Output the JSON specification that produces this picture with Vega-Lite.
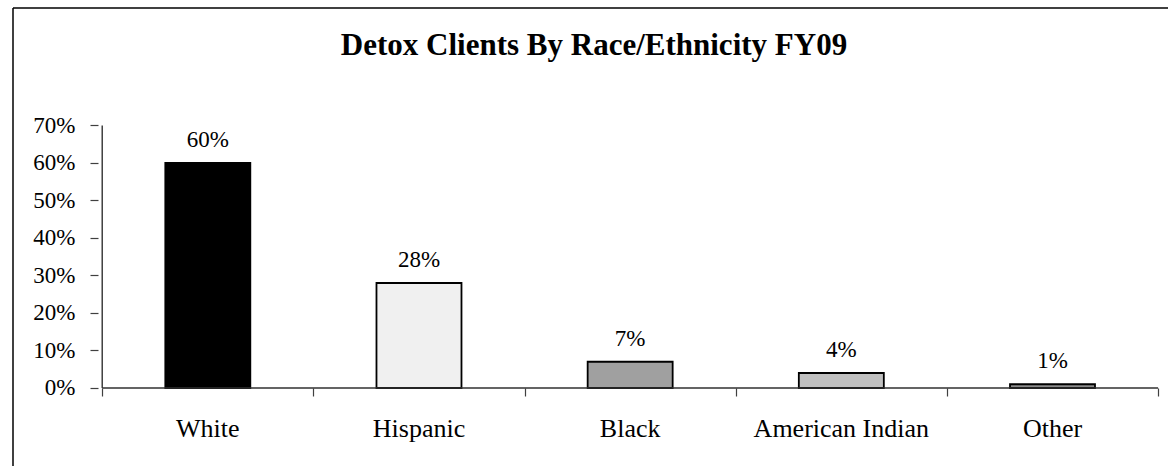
{
  "$schema": "https://vega.github.io/schema/vega-lite/v6.json",
  "width": 1165,
  "height": 458,
  "autosize": {"type": "none"},
  "padding": {"left": 8, "top": 8, "right": 0, "bottom": 0},
  "background": "white",
  "config": {"view": {"stroke": null}, "font": "Liberation Serif"},
  "title": {
    "text": "Detox Clients By Race/Ethnicity FY09",
    "font": "Liberation Serif",
    "fontSize": 31,
    "fontWeight": "bold",
    "color": "black",
    "anchor": "middle",
    "frame": "group",
    "offset": 0,
    "baseline": "alphabetic",
    "dy": 79,
    "dx": 3.5
  },
  "data": {
    "values": [
      {"race": "White", "pct": 0.60, "label": "60%"},
      {"race": "Hispanic", "pct": 0.28, "label": "28%"},
      {"race": "Black", "pct": 0.07, "label": "7%"},
      {"race": "American Indian", "pct": 0.04, "label": "4%"},
      {"race": "Other", "pct": 0.01, "label": "1%"}
    ]
  },
  "transform": [{"window": [{"op": "row_number", "as": "k"}]}],
  "layer": [
    {
      "mark": {"type": "bar", "size": 85, "stroke": "black", "strokeWidth": 1.8},
      "encoding": {
        "x": {
          "field": "k",
          "type": "quantitative",
          "scale": {"domain": [0.07746, 5.54695], "nice": false, "zero": false},
          "axis": {
            "title": null,
            "orient": "bottom",
            "offset": -78,
            "values": [0.5, 1.5, 2.5, 3.5, 4.5, 5.5],
            "labels": false,
            "domain": false,
            "ticks": true,
            "tickSize": 8,
            "tickColor": "#404040",
            "tickWidth": 1.2,
            "grid": false
          }
        },
        "y": {
          "field": "pct",
          "type": "quantitative",
          "scale": {"domain": [-0.208, 1.01333], "nice": false, "zero": false},
          "axis": {
            "title": null,
            "orient": "left",
            "offset": -90,
            "values": [0, 0.1, 0.2, 0.3, 0.4, 0.5, 0.6, 0.7],
            "format": ".0%",
            "labelFont": "Liberation Serif",
            "labelFontSize": 23,
            "labelColor": "black",
            "labelPadding": 15,
            "domain": false,
            "tickSize": 8,
            "tickColor": "#404040",
            "tickWidth": 1.2,
            "grid": false
          }
        },
        "y2": {"datum": 0},
        "color": {
          "field": "race",
          "type": "nominal",
          "legend": null,
          "scale": {
            "domain": ["White", "Hispanic", "Black", "American Indian", "Other"],
            "range": ["#000000", "#f0f0f0", "#a0a0a0", "#c0c0c0", "#8c8c8c"]
          }
        }
      }
    },
    {
      "mark": {"type": "text", "baseline": "alphabetic", "align": "center", "dy": -16, "fontSize": 23, "font": "Liberation Serif", "color": "black"},
      "encoding": {
        "x": {"field": "k", "type": "quantitative", "scale": {"domain": [0.07746, 5.54695], "nice": false, "zero": false}},
        "y": {"field": "pct", "type": "quantitative", "scale": {"domain": [-0.208, 1.01333], "nice": false, "zero": false}},
        "text": {"field": "label"}
      }
    },
    {
      "mark": {"type": "text", "baseline": "alphabetic", "align": "center", "fontSize": 26, "font": "Liberation Serif", "color": "black"},
      "encoding": {
        "x": {"field": "k", "type": "quantitative", "scale": {"domain": [0.07746, 5.54695], "nice": false, "zero": false}},
        "y": {"datum": -0.132, "type": "quantitative", "scale": {"domain": [-0.208, 1.01333], "nice": false, "zero": false}},
        "text": {"field": "race"}
      }
    },
    {
      "data": {"values": [{}]},
      "mark": {"type": "rule", "color": "#404040", "strokeWidth": 1.5},
      "encoding": {
        "x": {"datum": 0.5, "type": "quantitative", "scale": {"domain": [0.07746, 5.54695], "nice": false, "zero": false}},
        "y": {"datum": 0, "type": "quantitative", "scale": {"domain": [-0.208, 1.01333], "nice": false, "zero": false}},
        "y2": {"datum": 0.7}
      }
    },
    {
      "data": {"values": [{}]},
      "mark": {"type": "rule", "color": "#303030", "strokeWidth": 1.5},
      "encoding": {
        "x": {"datum": 0.5, "type": "quantitative", "scale": {"domain": [0.07746, 5.54695], "nice": false, "zero": false}},
        "x2": {"datum": 5.5},
        "y": {"datum": 0, "type": "quantitative", "scale": {"domain": [-0.208, 1.01333], "nice": false, "zero": false}}
      }
    },
    {
      "data": {"values": [{}]},
      "mark": {"type": "rule", "color": "black", "strokeWidth": 1.5},
      "encoding": {
        "x": {"datum": 0.07746, "type": "quantitative", "scale": {"domain": [0.07746, 5.54695], "nice": false, "zero": false}},
        "y": {"datum": -0.208, "type": "quantitative", "scale": {"domain": [-0.208, 1.01333], "nice": false, "zero": false}},
        "y2": {"datum": 1.01333}
      }
    },
    {
      "data": {"values": [{}]},
      "mark": {"type": "rule", "color": "black", "strokeWidth": 1.5},
      "encoding": {
        "x": {"datum": 0.07746, "type": "quantitative", "scale": {"domain": [0.07746, 5.54695], "nice": false, "zero": false}},
        "x2": {"datum": 5.54695},
        "y": {"datum": 1.01333, "type": "quantitative", "scale": {"domain": [-0.208, 1.01333], "nice": false, "zero": false}}
      }
    }
  ]
}
